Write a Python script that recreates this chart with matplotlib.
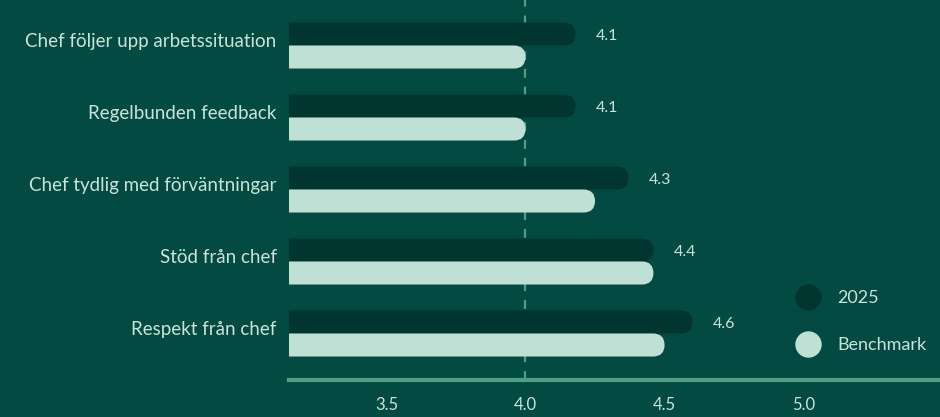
import matplotlib
matplotlib.use('Agg')
import matplotlib.pyplot as plt
from matplotlib.patches import FancyBboxPatch
from matplotlib.lines import Line2D

categories = ['Chef följer upp arbetssituation', 'Regelbunden feedback',
              'Chef tydlig med förväntningar', 'Stöd från chef', 'Respekt från chef']
values_2025 = [4.18, 4.18, 4.37, 4.46, 4.60]
values_bench = [4.00, 4.00, 4.25, 4.46, 4.50]
labels_2025 = ['4.1', '4.1', '4.3', '4.4', '4.6']
series_names = ['2025', 'Benchmark']
x_ticks = [3.5, 4.0, 4.5, 5.0]

BG = '#034a42'
DARK = '#00362f'
LIGHT = '#bfe0d4'
AXIS = '#4f9f82'
TEXT = '#c9e3d9'

plt.rcParams['font.family'] = ['Lato', 'DejaVu Sans']

W, H = 940, 417
fig = plt.figure(figsize=(W / 100, H / 100), dpi=100, facecolor=BG)
ax = fig.add_axes([289 / W, 1 - 380 / H, 1 - 289 / W, 380 / H])
ax.set_facecolor(BG)

xmin, xmax = 3.15, 5.49
ymin, ymax = 4.646, -0.632
ax.set_xlim(xmin, xmax)
ax.set_ylim(ymin, ymax)

bar_h = 0.32
# aspect between data units per pixel in y and x
px_x = (xmax - xmin) / (W - 289)
px_y = (ymin - ymax) / 380
aspect = px_y / px_x

ax.axvline(4.0, color=AXIS, lw=1.6, ls=(0, (4, 4)), zorder=1)

for i, cat in enumerate(categories):
    for val, yc, col in [(values_2025[i], i - bar_h / 2, DARK),
                         (values_bench[i], i + bar_h / 2, LIGHT)]:
        left = xmin - 0.2
        p = FancyBboxPatch((left, yc - bar_h / 2), val - left, bar_h,
                           boxstyle='round,pad=0,rounding_size=%f' % (bar_h / aspect / 2),
                           mutation_aspect=aspect, fc=col, ec='none', zorder=2)
        ax.add_patch(p)
    ax.text(values_2025[i] + 20 * px_x, i - bar_h / 2 + 0.03, labels_2025[i],
            color=TEXT, fontsize=11.5, va='center', ha='left')

ax.set_yticks([i - 0.05 for i in range(len(categories))])
ax.set_yticklabels(categories, fontsize=13.5, color=TEXT, va='center')
ax.set_xticks(x_ticks)
ax.set_xticklabels([f'{t:.1f}' for t in x_ticks], fontsize=12, color=TEXT)
ax.tick_params(axis='both', length=0)
ax.tick_params(axis='y', pad=9)
ax.tick_params(axis='x', pad=12)
for s in ['top', 'right', 'left']:
    ax.spines[s].set_visible(False)
ax.spines['bottom'].set_color(AXIS)
ax.spines['bottom'].set_linewidth(3)

handles = [Line2D([], [], marker='o', ls='', ms=19, mfc=c, mec='none')
           for c in (DARK, LIGHT)]
leg = ax.legend(handles, series_names, loc='upper left', bbox_to_anchor=(0.77, 0.255),
                frameon=False, fontsize=13, labelspacing=1.7, handletextpad=1.0,
                borderaxespad=0, handlelength=1.2)
for t in leg.get_texts():
    t.set_color(TEXT)

fig.savefig('out.png', dpi=100, facecolor=BG)
